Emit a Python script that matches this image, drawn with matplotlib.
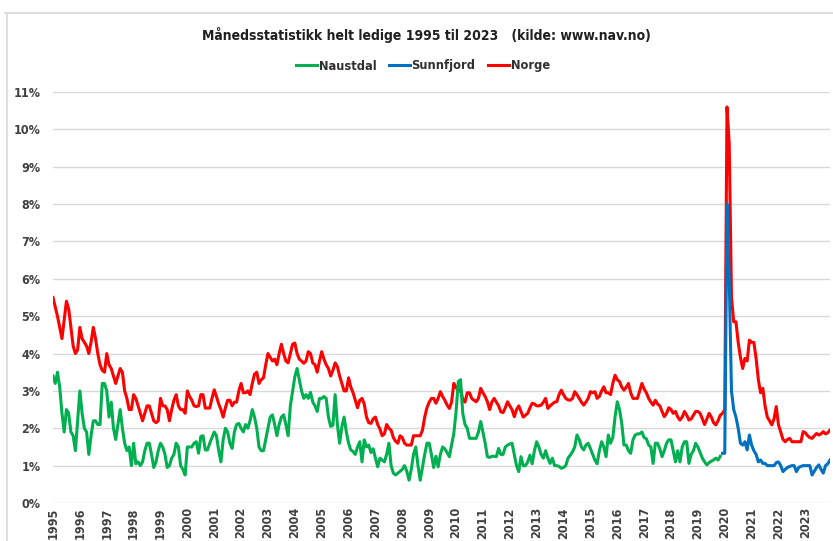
import numpy as np
import matplotlib.pyplot as plt
from matplotlib.lines import Line2D
from matplotlib import font_manager

# monthly values, Jan 1995 ->
years = list(range(1995, 2024))

norge = [
    5.5, 5.25, 5.0, 4.7, 4.4, 4.9, 5.4, 5.2, 4.7, 4.2, 4.0, 4.1,           # 1995
    4.7, 4.4, 4.3, 4.2, 4.0, 4.3, 4.7, 4.4, 4.0, 3.7, 3.55, 3.5,          # 1996
    4.0, 3.7, 3.6, 3.4, 3.2, 3.4, 3.6, 3.5, 3.0, 2.8, 2.5, 2.5,           # 1997
    2.9, 2.8, 2.6, 2.4, 2.2, 2.4, 2.6, 2.6, 2.4, 2.2, 2.15, 2.2,          # 1998
    2.8, 2.6, 2.6, 2.5, 2.2, 2.5, 2.75, 2.9, 2.6, 2.5, 2.5, 2.4,          # 1999
    3.0, 2.85, 2.75, 2.6, 2.58, 2.6, 2.9, 2.9, 2.54, 2.54, 2.54, 2.8,     # 2000
    3.03, 2.85, 2.65, 2.5, 2.3, 2.55, 2.75, 2.75, 2.6, 2.7, 2.7, 3.0,     # 2001
    3.2, 2.95, 2.95, 3.0, 2.9, 3.2, 3.45, 3.5, 3.2, 3.3, 3.35, 3.7,       # 2002
    4.0, 3.9, 3.8, 3.85, 3.7, 4.0, 4.25, 4.0, 3.8, 3.75, 4.0, 4.25,       # 2003
    4.28, 4.0, 3.85, 3.8, 3.74, 3.8, 4.05, 4.0, 3.75, 3.7, 3.5, 3.8,      # 2004
    4.05, 3.85, 3.7, 3.6, 3.4, 3.55, 3.75, 3.65, 3.4, 3.2, 3.0, 3.0,      # 2005
    3.35, 3.1, 2.95, 2.75, 2.55, 2.75, 2.8, 2.65, 2.3, 2.15, 2.13, 2.25,  # 2006
    2.3, 2.1, 1.98, 1.8, 1.85, 2.1, 2.0, 1.95, 1.75, 1.65, 1.6, 1.8,      # 2007
    1.75, 1.6, 1.55, 1.55, 1.55, 1.8, 1.8, 1.8, 1.8, 1.95, 2.3, 2.55,     # 2008
    2.7, 2.8, 2.8, 2.67, 2.8, 2.98, 2.85, 2.75, 2.62, 2.53, 2.7, 3.2,     # 2009
    3.1, 2.98, 3.07, 2.75, 2.7, 2.95, 2.95, 2.8, 2.75, 2.71, 2.8, 3.07,   # 2010
    2.95, 2.85, 2.71, 2.5, 2.7, 2.8, 2.7, 2.6, 2.44, 2.42, 2.55, 2.71,    # 2011
    2.6, 2.5, 2.31, 2.5, 2.6, 2.45, 2.3, 2.35, 2.4, 2.55, 2.67, 2.65,     # 2012
    2.6, 2.6, 2.62, 2.7, 2.8, 2.53, 2.6, 2.65, 2.7, 2.71, 2.9, 3.02,      # 2013
    2.9, 2.8, 2.76, 2.75, 2.8, 2.98, 2.9, 2.8, 2.7, 2.62, 2.7, 2.8,       # 2014
    2.98, 2.95, 2.98, 2.8, 2.85, 3.0, 3.11, 2.95, 2.95, 2.9, 3.2, 3.42,   # 2015
    3.3, 3.25, 3.1, 3.02, 3.1, 3.2, 2.95, 2.8, 2.8, 2.8, 3.0, 3.2,        # 2016
    3.05, 2.95, 2.8, 2.7, 2.62, 2.75, 2.65, 2.6, 2.45, 2.31, 2.4, 2.55,   # 2017
    2.5, 2.4, 2.45, 2.3, 2.22, 2.3, 2.45, 2.35, 2.22, 2.25, 2.35, 2.45,   # 2018
    2.45, 2.4, 2.25, 2.1, 2.25, 2.4, 2.3, 2.15, 2.09, 2.2, 2.35, 2.4,     # 2019
    2.5, 10.6, 9.6, 5.5, 4.85, 4.85, 4.3, 3.9, 3.6, 3.87, 3.8, 4.36,      # 2020
    4.3, 4.3, 3.87, 3.3, 2.95, 3.07, 2.6, 2.3, 2.2, 2.09, 2.25, 2.58,     # 2021
    2.09, 1.9, 1.7, 1.64, 1.7, 1.73, 1.64, 1.64, 1.64, 1.64, 1.64, 1.91,  # 2022
    1.88, 1.8, 1.75, 1.73, 1.8, 1.86, 1.82, 1.85, 1.91, 1.85, 1.88, 1.95, # 2023
]

naustdal = [
    3.4, 3.2, 3.5, 3.1, 2.4, 1.9, 2.5, 2.4, 1.9, 1.8, 1.4, 2.2,           # 1995
    3.0, 2.4, 2.0, 1.9, 1.3, 1.8, 2.2, 2.2, 2.1, 2.1, 3.2, 3.2,           # 1996
    3.0, 2.3, 2.7, 2.0, 1.7, 2.1, 2.5, 2.0, 1.6, 1.4, 1.5, 1.0,           # 1997
    1.6, 1.05, 1.1, 1.0, 1.1, 1.4, 1.6, 1.6, 1.3, 0.95, 1.1, 1.4,         # 1998
    1.6, 1.5, 1.3, 0.95, 1.0, 1.2, 1.3, 1.6, 1.5, 1.0, 0.9, 0.75,         # 1999
    1.5, 1.5, 1.5, 1.6, 1.64, 1.33, 1.78, 1.8, 1.42, 1.42, 1.6, 1.75,     # 2000
    1.9, 1.8, 1.4, 1.1, 1.7, 2.0, 1.9, 1.6, 1.46, 1.9, 2.1, 2.13,         # 2001
    2.0, 1.9, 2.1, 2.0, 2.2, 2.5, 2.3, 2.0, 1.5, 1.4, 1.4, 1.7,           # 2002
    2.0, 2.3, 2.36, 2.1, 1.8, 2.1, 2.3, 2.36, 2.1, 1.8, 2.6, 3.0,         # 2003
    3.38, 3.6, 3.3, 3.0, 2.8, 2.9, 2.8, 2.96, 2.7, 2.6, 2.45, 2.8,        # 2004
    2.8, 2.85, 2.8, 2.3, 2.05, 2.08, 2.9, 2.1, 1.6, 2.04, 2.3, 1.9,       # 2005
    1.6, 1.42, 1.38, 1.3, 1.5, 1.64, 1.1, 1.69, 1.5, 1.55, 1.35, 1.45,    # 2006
    1.2, 0.97, 1.2, 1.15, 1.1, 1.3, 1.6, 1.0, 0.8, 0.75, 0.8, 0.85,       # 2007
    0.9, 1.0, 0.85, 0.61, 0.9, 1.3, 1.5, 1.0, 0.61, 0.95, 1.3, 1.6,       # 2008
    1.6, 1.3, 0.95, 1.25, 0.97, 1.3, 1.5, 1.45, 1.35, 1.24, 1.55, 1.86,   # 2009
    2.44, 3.25, 3.3, 2.4, 2.1, 2.0, 1.73, 1.73, 1.73, 1.73, 1.9, 2.18,    # 2010
    1.9, 1.6, 1.24, 1.22, 1.25, 1.25, 1.24, 1.46, 1.3, 1.3, 1.5, 1.55,    # 2011
    1.58, 1.6, 1.3, 1.0, 0.84, 1.24, 1.0, 1.0, 1.1, 1.28, 1.05, 1.4,      # 2012
    1.64, 1.5, 1.3, 1.2, 1.4, 1.2, 1.06, 1.2, 1.0, 1.0, 0.98, 0.93,       # 2013
    0.95, 1.0, 1.2, 1.28, 1.37, 1.5, 1.82, 1.7, 1.5, 1.42, 1.55, 1.6,     # 2014
    1.46, 1.3, 1.15, 1.05, 1.4, 1.64, 1.5, 1.24, 1.82, 1.6, 1.75, 2.3,    # 2015
    2.71, 2.5, 2.13, 1.55, 1.55, 1.4, 1.33, 1.69, 1.82, 1.85, 1.85, 1.9,  # 2016
    1.75, 1.72, 1.55, 1.5, 1.06, 1.6, 1.6, 1.45, 1.24, 1.4, 1.6, 1.69,    # 2017
    1.69, 1.4, 1.1, 1.4, 1.1, 1.5, 1.64, 1.64, 1.06, 1.3, 1.4, 1.6,       # 2018
    1.5, 1.35, 1.2, 1.1, 1.02, 1.08, 1.12, 1.15, 1.2, 1.15, 1.25,         # 2019 (to Nov)
]

sunnfjord = [
    1.33,                                                                 # Dec 2019
    1.33, 8.0, 6.0, 3.0, 2.5, 2.3, 2.0, 1.6, 1.55, 1.64, 1.42, 1.82,      # 2020
    1.55, 1.4, 1.3, 1.1, 1.15, 1.06, 1.06, 1.0, 1.0, 1.0, 1.0, 1.08,      # 2021
    1.1, 1.0, 0.84, 0.9, 0.95, 0.98, 1.0, 1.0, 0.84, 0.95, 0.98, 1.0,     # 2022
    1.0, 1.0, 1.0, 0.75, 0.85, 0.95, 1.02, 0.9, 0.8, 1.0, 1.05, 1.15,     # 2023
]

GREEN = '#00B050'
BLUE = '#0070C0'
RED = '#FF0000'
GRID = '#D9D9D9'

# narrow face if there is one (the original uses Calibri)
names = {f.name for f in font_manager.fontManager.ttflist}
narrow = [n for n in ['Liberation Sans Narrow', 'DejaVu Sans'] if n in names]
plt.rcParams['font.family'] = narrow + ['DejaVu Sans']
plt.rcParams['font.stretch'] = 'condensed'


def main():
    fig = plt.figure(figsize=(8.33, 5.41), dpi=100)
    ax = fig.add_axes([53 / 833, 38 / 541, 777 / 833, 411 / 541])

    x_norge = np.arange(len(norge))
    x_naustdal = np.arange(len(naustdal))
    x_sunnfjord = np.arange(len(sunnfjord)) + len(naustdal)

    lw = 2.2
    ax.plot(x_naustdal, naustdal, color=GREEN, lw=lw, label='Naustdal', zorder=3)
    ax.plot(x_sunnfjord, sunnfjord, color=BLUE, lw=lw, label='Sunnfjord', zorder=3)
    ax.plot(x_norge, norge, color=RED, lw=lw, label='Norge', zorder=2)

    ax.set_xlim(0, len(norge) - 1)
    ax.set_ylim(0, 11)
    ax.set_yticks(range(0, 12))
    ax.set_yticklabels([f'{v}%' for v in range(0, 12)], fontsize=9, fontweight='bold',
                       color='#404040')
    ax.set_xticks([12 * i for i in range(len(years))])
    ax.set_xticklabels([str(y) for y in years], rotation=90, fontsize=9,
                       fontweight='bold', color='#404040')
    ax.tick_params(length=0)
    ax.tick_params(axis='y', pad=9)
    ax.tick_params(axis='x', pad=3)
    ax.yaxis.grid(True, color=GRID, lw=1)
    ax.set_axisbelow(True)
    for s in ax.spines.values():
        s.set_visible(False)

    fig.text(426 / 833, 1 - 35 / 541,
             'Månedsstatistikk helt ledige 1995 til 2023   (kilde: www.nav.no)',
             ha='center', va='center', fontsize=10, fontweight='bold', color='#202020')

    fig.legend(loc='center', bbox_to_anchor=(423 / 833, 1 - 66 / 541), ncol=3,
               frameon=False, handlelength=1.6, handletextpad=0.15, columnspacing=1.0,
               prop={'size': 9.2, 'weight': 'bold'}, labelcolor='#303030')

    # outer chart frame
    fig.add_artist(Line2D([5 / 833, 1], [1 - 13 / 541, 1 - 13 / 541],
                          transform=fig.transFigure, color=GRID, lw=1.2))
    fig.add_artist(Line2D([7 / 833, 7 / 833], [0, 1 - 13 / 541],
                          transform=fig.transFigure, color=GRID, lw=1.2))

    fig.savefig('out.png', dpi=100)


if __name__ == '__main__':
    main()
